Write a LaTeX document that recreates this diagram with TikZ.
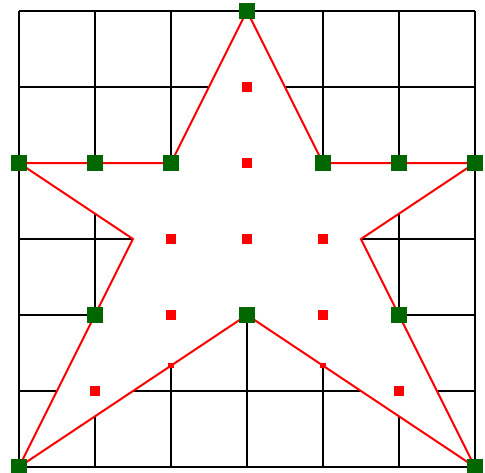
\documentclass[tikz,border=0pt]{standalone}
\usepackage{tikz}

\begin{document}
\begin{tikzpicture}[
  x=1cm, y=1cm,
  gridline/.style={draw=black, line width=0.9pt},
  starline/.style={draw=red, line width=0.75pt, fill=white, line join=miter},
  bdot/.style={fill=green!40!black, draw=none, minimum size=0.21cm, inner sep=0pt},
  idot/.style={fill=red, draw=none, minimum size=0.13cm, inner sep=0pt},
  tdot/.style={fill=red, draw=none, minimum size=0.07cm, inner sep=0pt}
]
\useasboundingbox (-0.25,-0.079) rectangle (6.132,6.145);
% grid
\foreach \i in {0,...,6}
  \draw[gridline] (\i,0) -- (\i,6);
\foreach \j in {0,...,6}
  \draw[gridline] (0,\j) -- (6,\j);
% star
\coordinate (p1) at (3,6);
\coordinate (p2) at (4,4);
\coordinate (p3) at (6,4);
\coordinate (p4) at (4.5,3);
\coordinate (p5) at (6,0);
\coordinate (p6) at (3,2);
\coordinate (p7) at (0,0);
\coordinate (p8) at (1.5,3);
\coordinate (p9) at (0,4);
\coordinate (p10) at (2,4);
\draw[starline] (p1) -- (p2) -- (p3) -- (p4) -- (p5) -- (p6) -- (p7) -- (p8) -- (p9) -- (p10) -- cycle;
% boundary points
\foreach \x/\y [count=\n] in {3/6, 0/4, 1/4, 2/4, 4/4, 5/4, 6/4, 1/2, 3/2, 5/2, 0/0, 6/0}
  \node[bdot] (b\n) at (\x,\y) {};
% interior points
\foreach \x/\y [count=\n] in {3/5, 3/4, 2/3, 3/3, 4/3, 2/2, 4/2, 1/1, 5/1}
  \node[idot] (i\n) at (\x,\y) {};
\node[tdot] (t1) at (2,1.333) {};
\node[tdot] (t2) at (4,1.333) {};
\end{tikzpicture}
\end{document}
